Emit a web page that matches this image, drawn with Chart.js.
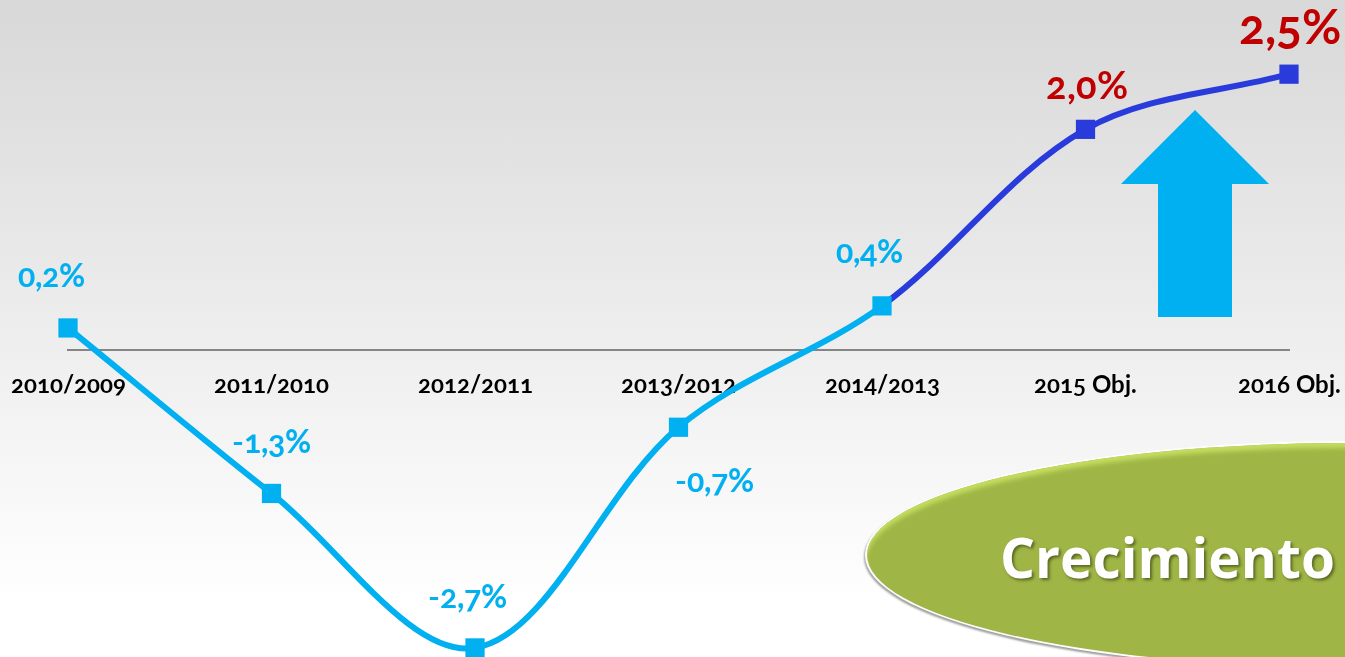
<!DOCTYPE html>
<html>
<head>
<meta charset="utf-8">
<title>Crecimiento</title>
<script src="https://cdn.jsdelivr.net/npm/chart.js@4"></script>
<style>
    /* numeros estilo antiguo, como en la diapositiva */
    @font-face { font-family: "LatoOld"; src: local("Lato Bold"), local("Lato"); font-feature-settings: "onum"; font-weight: bold; }
    html, body { margin: 0; padding: 0; width: 1345px; height: 657px; overflow: hidden; }
    body { position: relative; background: linear-gradient(#d8d8d8 0%, #ffffff 92%); }
    #wrap { position: absolute; left: 0; top: 0; width: 1345px; height: 657px; }
    #arrow {
        position: absolute; left: 1121px; top: 110px; width: 148px; height: 207px; background: #00b0f0;
        clip-path: polygon(50% 0, 100% 74px, 75% 74px, 75% 100%, 25% 100%, 25% 74px, 0 74px);
    }
    #oval {
        position: absolute; left: 867px; top: 443px; width: 960px; height: 224px; border-radius: 50%;
        background: #9fb646; box-sizing: border-box;
        box-shadow: inset 0 6px 4px -1px #c3dc60, 0 0 0 2px #fff, -1px 2px 2px 2px #a0a0a0;
    }
    #oval-text {
        position: absolute; left: 1000px; top: 519px; color: #fff;
        font: 700 55px "Open Sans", sans-serif; text-shadow: 2px 2px 3px rgba(60, 70, 20, .7);
    }
</style>
</head>
<body>
<div id="oval"></div>
<div id="oval-text">Crecimiento</div>
<div id="arrow"></div>
<div id="wrap"><canvas id="crecimientoChart" width="1345" height="657"></canvas></div>
<script>
const categories = ['2010/2009', '2011/2010', '2012/2011', '2013/2012', '2014/2013', '2015 Obj.', '2016 Obj.'];
const growth = [0.2, -1.3, -2.7, -0.7, 0.4, 2.0, 2.5];

const lightBlue = '#00b0f0';
const darkBlue = '#2a3bdc';
const red = '#c00000';
// los dos ultimos puntos son objetivos
const objective = [false, false, false, false, false, true, true];

// posicion de cada etiqueta respecto a su punto + tamano de letra
const labelStyle = [
    { dx: -17, dy: -51, size: 32 },
    { dx: 0, dy: -50, size: 32 },
    { dx: -8, dy: -50, size: 32 },
    { dx: 36, dy: 55, size: 32 },
    { dx: -13, dy: -53, size: 32 },
    { dx: 1, dy: -42, size: 38 },
    { dx: 1, dy: -45, size: 48 }
];

const valueLabels = {
    id: 'valueLabels',
    afterDatasetsDraw(chart) {
        const ctx = chart.ctx;
        const points = chart.getDatasetMeta(0).data;
        ctx.save();
        ctx.textAlign = 'center';
        ctx.textBaseline = 'middle';
        points.forEach(function(pt, i) {
            const st = labelStyle[i];
            ctx.font = 'bold ' + st.size + 'px LatoOld, Lato, sans-serif';
            ctx.fillStyle = objective[i] ? red : lightBlue;
            ctx.fillText(growth[i].toFixed(1).replace('.', ',') + '%', pt.x + st.dx, pt.y + st.dy);
        });
        ctx.restore();
    }
};

new Chart(document.getElementById('crecimientoChart'), {
    type: 'line',
    data: {
        labels: categories,
        datasets: [{
            data: growth,
            borderWidth: 6,
            tension: 0.34,
            clip: false,
            borderColor: lightBlue,
            segment: {
                borderColor: function(c) { return objective[c.p1DataIndex] ? darkBlue : lightBlue; }
            },
            pointStyle: 'rect',
            pointRadius: 13.6,
            pointBackgroundColor: objective.map(o => o ? darkBlue : lightBlue),
            pointBorderWidth: 0
        }]
    },
    options: {
        responsive: false,
        animation: false,
        layout: { padding: { left: 68, right: 56, top: 0, bottom: 0 } },
        plugins: { legend: { display: false }, tooltip: { enabled: false } },
        scales: {
            x: {
                position: { y: 0 },
                offset: false,
                // las etiquetas no deben empujar el area del grafico
                afterFit: function(s) { s.paddingLeft = 0; s.paddingRight = 0; },
                grid: { display: false, drawTicks: false },
                border: { display: true, color: '#858585', width: 2 },
                ticks: {
                    maxRotation: 0,
                    autoSkip: false,
                    padding: 21,
                    color: '#000',
                    font: { family: 'LatoOld, Lato, sans-serif', weight: 'bold', size: 24 }
                }
            },
            y: {
                display: false,
                min: -2.659,
                max: 3.049
            }
        }
    },
    plugins: [valueLabels]
});
</script>
</body>
</html>
